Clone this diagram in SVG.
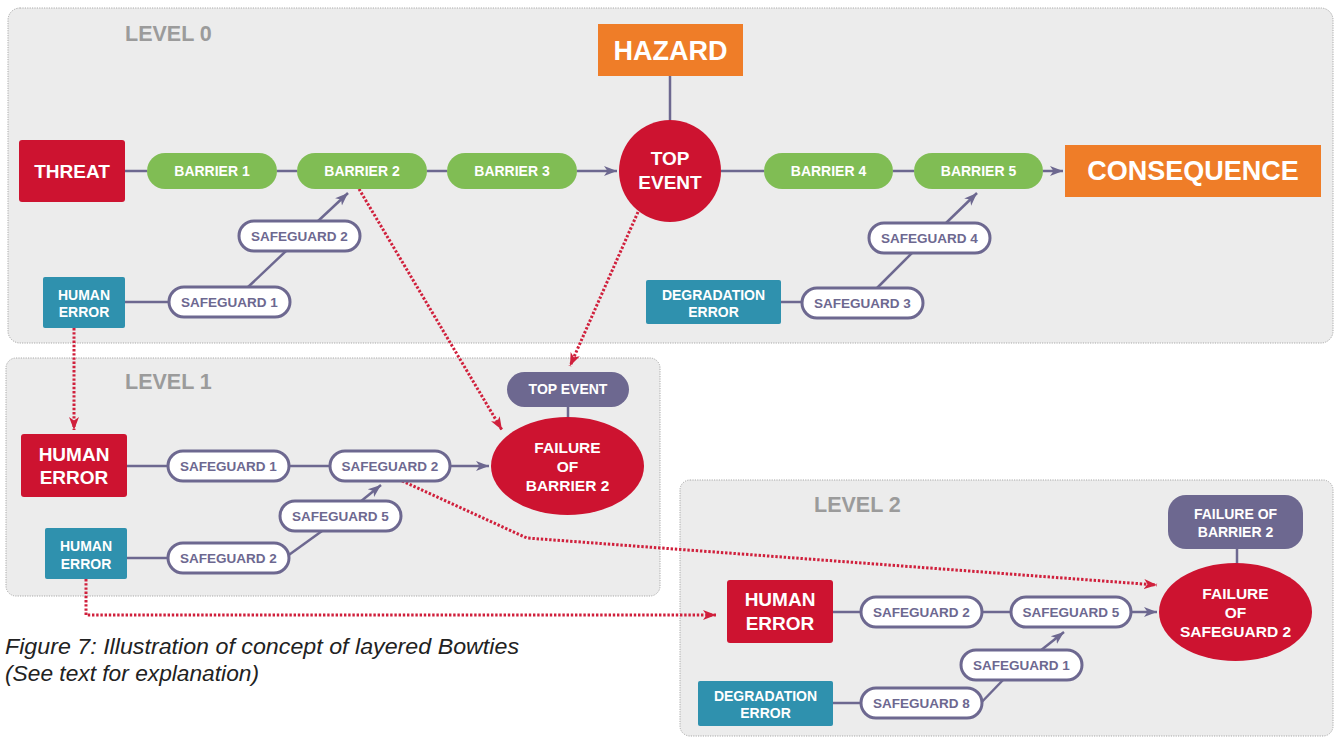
<svg xmlns="http://www.w3.org/2000/svg" width="1336" height="737" viewBox="0 0 1336 737">
  <style>
    text { font-family: "Liberation Sans", Arial, Helvetica, sans-serif; font-weight: bold; text-anchor: middle; }
    .panel { fill: #ececec; stroke: #a8a8a8; stroke-width: 1; stroke-dasharray: 1.2 1.2; }
    .lvl { font-size: 21.5px; fill: #9b9b9b; text-anchor: start; }
    .w { fill: #ffffff; }
    .red { fill: #cd1330; }
    .orange { fill: #ef7d28; }
    .teal { fill: #2f91ae; }
    .purple { fill: #6d6890; }
    .barrier rect { fill: #80bd54; }
    .barrier text { fill: #ffffff; font-size: 14px; }
    .sg rect { fill: #ffffff; stroke: #6d6890; stroke-width: 3; }
    .sg text { fill: #6d6890; font-size: 13.5px; }
    .t14 { font-size: 14px; }
    .t15 { font-size: 15.5px; }
    .t19 { font-size: 19px; }
    .t27 { font-size: 27px; }
    .link { stroke: #6d6890; stroke-width: 2.5; fill: none; }
    .arrow { marker-end: url(#arrowPurple); }
    .dotted { stroke: #d0203c; stroke-width: 3; stroke-dasharray: 2.4 1.8; fill: none; marker-end: url(#arrowRed); }
    .caption { font-weight: normal; font-style: italic; font-size: 22px; fill: #222222; text-anchor: start; }
  </style>
  <defs>
    <marker id="arrowPurple" markerUnits="userSpaceOnUse" markerWidth="14" markerHeight="12" refX="13" refY="6" orient="auto">
      <path d="M0,1 L13,6 L0,11 L3.5,6 z" fill="#6d6890"/>
    </marker>
    <marker id="arrowRed" markerUnits="userSpaceOnUse" markerWidth="14" markerHeight="12" refX="13" refY="6" orient="auto">
      <path d="M0,1 L13,6 L0,11 L3.5,6 z" fill="#d0203c"/>
    </marker>
  </defs>

  <!-- level panels -->
  <g id="panels">
    <rect class="panel" x="8" y="8" width="1325" height="335" rx="12"/>
    <rect class="panel" x="6" y="358" width="654" height="238" rx="10"/>
    <rect class="panel" x="680" y="480" width="653" height="256" rx="10"/>
    <text class="lvl" x="125" y="41">LEVEL 0</text>
    <text class="lvl" x="125" y="389">LEVEL 1</text>
    <text class="lvl" x="814" y="512">LEVEL 2</text>
  </g>

  <!-- connectors -->
  <g id="connectors">
    <!-- level 0 main line -->
    <line class="link" x1="125" y1="171" x2="147" y2="171"/>
    <line class="link" x1="277" y1="171" x2="297" y2="171"/>
    <line class="link" x1="427" y1="171" x2="447" y2="171"/>
    <line class="link arrow" x1="577" y1="171" x2="617" y2="171"/>
    <line class="link" x1="721" y1="171" x2="764" y2="171"/>
    <line class="link" x1="893" y1="171" x2="914" y2="171"/>
    <line class="link arrow" x1="1043" y1="171" x2="1063" y2="171"/>
    <line class="link" x1="670" y1="76" x2="670" y2="120"/>
    <!-- level 0 escalation legs -->
    <line class="link" x1="125" y1="302" x2="169" y2="302"/>
    <line class="link" x1="247" y1="288" x2="286" y2="251"/>
    <line class="link arrow" x1="317" y1="222" x2="348" y2="193"/>
    <line class="link" x1="781" y1="302" x2="802" y2="302"/>
    <line class="link" x1="876" y1="289" x2="913" y2="252"/>
    <line class="link arrow" x1="945" y1="224" x2="977" y2="193"/>

    <!-- level 1 -->
    <line class="link" x1="127" y1="466" x2="168" y2="466"/>
    <line class="link" x1="289" y1="466" x2="330" y2="466"/>
    <line class="link arrow" x1="450" y1="466" x2="489" y2="466"/>
    <line class="link" x1="568" y1="407" x2="568" y2="418"/>
    <line class="link" x1="127" y1="558" x2="168" y2="558"/>
    <line class="link" x1="286" y1="557" x2="322" y2="531"/>
    <line class="link arrow" x1="360" y1="502" x2="381" y2="485"/>

    <!-- level 2 -->
    <line class="link" x1="833" y1="612" x2="861" y2="612"/>
    <line class="link" x1="982" y1="612" x2="1011" y2="612"/>
    <line class="link arrow" x1="1131" y1="612" x2="1157" y2="612"/>
    <line class="link" x1="1237" y1="549" x2="1237" y2="564"/>
    <line class="link" x1="833" y1="703" x2="861" y2="703"/>
    <line class="link" x1="976" y1="708" x2="1003" y2="680"/>
    <line class="link arrow" x1="1040" y1="651" x2="1064" y2="632"/>

    <!-- links between levels -->
    <line class="dotted" x1="74" y1="328" x2="74" y2="430"/>
    <line class="dotted" x1="359" y1="189" x2="502" y2="430"/>
    <line class="dotted" x1="638" y1="212" x2="570" y2="366"/>
    <polyline class="dotted" points="86,579 86,615 716,615"/>
    <polyline class="dotted" points="402,481 527,538 1157,585"/>
  </g>

  <!-- level 0 nodes -->
  <g id="l0-hazard">
    <rect class="orange" x="598" y="24" width="145" height="52"/>
    <text class="w t27" x="670.5" y="60">HAZARD</text>
  </g>
  <g id="l0-threat">
    <rect class="red" x="19" y="140" width="106" height="62" rx="3"/>
    <text class="w t19" x="72" y="178">THREAT</text>
  </g>
  <g id="l0-barrier1" class="barrier">
    <rect x="147" y="153" width="130" height="36" rx="18"/>
    <text x="212" y="176">BARRIER 1</text>
  </g>
  <g id="l0-barrier2" class="barrier">
    <rect x="297" y="153" width="130" height="36" rx="18"/>
    <text x="362" y="176">BARRIER 2</text>
  </g>
  <g id="l0-barrier3" class="barrier">
    <rect x="447" y="153" width="130" height="36" rx="18"/>
    <text x="512" y="176">BARRIER 3</text>
  </g>
  <g id="l0-top-event">
    <circle class="red" cx="670" cy="171" r="51"/>
    <text class="w t19" x="670" y="165">TOP</text>
    <text class="w t19" x="670" y="189">EVENT</text>
  </g>
  <g id="l0-barrier4" class="barrier">
    <rect x="764" y="153" width="129" height="36" rx="18"/>
    <text x="828.5" y="176">BARRIER 4</text>
  </g>
  <g id="l0-barrier5" class="barrier">
    <rect x="914" y="153" width="129" height="36" rx="18"/>
    <text x="978.5" y="176">BARRIER 5</text>
  </g>
  <g id="l0-consequence">
    <rect class="orange" x="1065" y="145" width="256" height="52"/>
    <text class="w t27" x="1193" y="180">CONSEQUENCE</text>
  </g>
  <g id="l0-safeguard2" class="sg">
    <rect x="239" y="221" width="121" height="30" rx="15"/>
    <text x="299.5" y="241">SAFEGUARD 2</text>
  </g>
  <g id="l0-safeguard1" class="sg">
    <rect x="169" y="287" width="121" height="30" rx="15"/>
    <text x="229.5" y="307">SAFEGUARD 1</text>
  </g>
  <g id="l0-human-error">
    <rect class="teal" x="43" y="277" width="82" height="51" rx="2"/>
    <text class="w t14" x="84" y="300">HUMAN</text>
    <text class="w t14" x="84" y="317">ERROR</text>
  </g>
  <g id="l0-degradation-error">
    <rect class="teal" x="646" y="280" width="135" height="44" rx="2"/>
    <text class="w t14" x="713.5" y="300">DEGRADATION</text>
    <text class="w t14" x="713.5" y="317">ERROR</text>
  </g>
  <g id="l0-safeguard3" class="sg">
    <rect x="802" y="288" width="121" height="30" rx="15"/>
    <text x="862.5" y="308">SAFEGUARD 3</text>
  </g>
  <g id="l0-safeguard4" class="sg">
    <rect x="869" y="223" width="121" height="30" rx="15"/>
    <text x="929.5" y="243">SAFEGUARD 4</text>
  </g>

  <!-- level 1 nodes -->
  <g id="l1-top-event">
    <rect class="purple" x="507" y="372" width="122" height="35" rx="17.5"/>
    <text class="w t14" x="568" y="394">TOP EVENT</text>
  </g>
  <g id="l1-failure-barrier2">
    <ellipse class="red" cx="567.5" cy="466" rx="76.5" ry="49"/>
    <text class="w t15" x="567.5" y="453">FAILURE</text>
    <text class="w t15" x="567.5" y="472">OF</text>
    <text class="w t15" x="567.5" y="491">BARRIER 2</text>
  </g>
  <g id="l1-human-error">
    <rect class="red" x="21" y="434" width="106" height="63" rx="3"/>
    <text class="w t19" x="74" y="461">HUMAN</text>
    <text class="w t19" x="74" y="484">ERROR</text>
  </g>
  <g id="l1-safeguard1" class="sg">
    <rect x="168" y="451" width="121" height="30" rx="15"/>
    <text x="228.5" y="471">SAFEGUARD 1</text>
  </g>
  <g id="l1-safeguard2" class="sg">
    <rect x="330" y="451" width="120" height="30" rx="15"/>
    <text x="390" y="471">SAFEGUARD 2</text>
  </g>
  <g id="l1-human-error-b">
    <rect class="teal" x="45" y="528" width="82" height="51" rx="2"/>
    <text class="w t14" x="86" y="551">HUMAN</text>
    <text class="w t14" x="86" y="569">ERROR</text>
  </g>
  <g id="l1-safeguard2-b" class="sg">
    <rect x="168" y="543" width="121" height="30" rx="15"/>
    <text x="228.5" y="563">SAFEGUARD 2</text>
  </g>
  <g id="l1-safeguard5" class="sg">
    <rect x="280" y="501" width="121" height="30" rx="15"/>
    <text x="340.5" y="521">SAFEGUARD 5</text>
  </g>

  <!-- level 2 nodes -->
  <g id="l2-failure-barrier2">
    <rect class="purple" x="1168" y="495" width="135" height="54" rx="18"/>
    <text class="w t14" x="1235.5" y="519">FAILURE OF</text>
    <text class="w t14" x="1235.5" y="537">BARRIER 2</text>
  </g>
  <g id="l2-failure-safeguard2">
    <ellipse class="red" cx="1235.5" cy="612" rx="76.5" ry="49"/>
    <text class="w t15" x="1235.5" y="599">FAILURE</text>
    <text class="w t15" x="1235.5" y="618">OF</text>
    <text class="w t15" x="1235.5" y="637">SAFEGUARD 2</text>
  </g>
  <g id="l2-human-error">
    <rect class="red" x="727" y="580" width="106" height="63" rx="3"/>
    <text class="w t19" x="780" y="606">HUMAN</text>
    <text class="w t19" x="780" y="630">ERROR</text>
  </g>
  <g id="l2-safeguard2" class="sg">
    <rect x="861" y="597" width="121" height="30" rx="15"/>
    <text x="921.5" y="617">SAFEGUARD 2</text>
  </g>
  <g id="l2-safeguard5" class="sg">
    <rect x="1011" y="597" width="120" height="30" rx="15"/>
    <text x="1071" y="617">SAFEGUARD 5</text>
  </g>
  <g id="l2-degradation-error">
    <rect class="teal" x="698" y="681" width="135" height="45" rx="2"/>
    <text class="w t14" x="765.5" y="701">DEGRADATION</text>
    <text class="w t14" x="765.5" y="718">ERROR</text>
  </g>
  <g id="l2-safeguard8" class="sg">
    <rect x="861" y="688" width="121" height="30" rx="15"/>
    <text x="921.5" y="708">SAFEGUARD 8</text>
  </g>
  <g id="l2-safeguard1" class="sg">
    <rect x="961" y="650" width="121" height="30" rx="15"/>
    <text x="1021.5" y="670">SAFEGUARD 1</text>
  </g>

  <!-- figure caption -->
  <g id="caption">
    <text class="caption" x="5" y="654" textLength="514" lengthAdjust="spacingAndGlyphs">Figure 7: Illustration of concept of layered Bowties</text>
    <text class="caption" x="5" y="681" textLength="254" lengthAdjust="spacingAndGlyphs">(See text for explanation)</text>
  </g>
</svg>
